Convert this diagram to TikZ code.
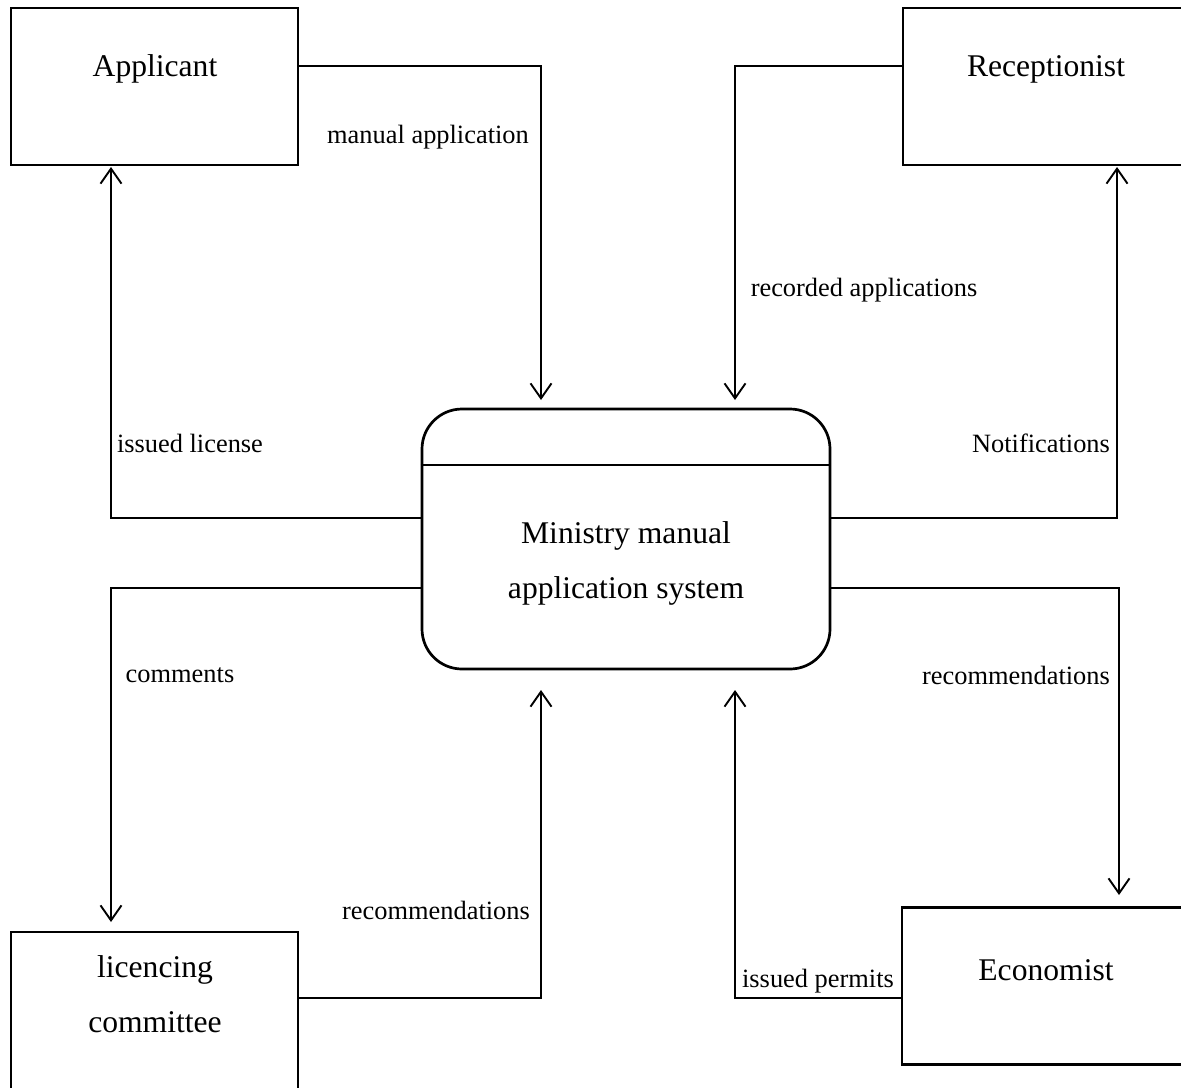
\documentclass[tikz,border=0pt]{standalone}
\usepackage{fontspec}
\setmainfont{Liberation Serif}
\usetikzlibrary{arrows.meta}

\tikzstyle{entity} = [draw,line width=1.35pt,minimum width=143.5pt,minimum height=78.5pt,inner sep=0pt]
\tikzstyle{process} = [draw,line width=1.35pt,rounded corners=20pt,minimum width=204pt,minimum height=130pt,inner sep=0pt]
\tikzstyle{bigtext} = [font=\fontsize{15.8}{27.5}\selectfont,align=center,inner sep=0pt]
\tikzstyle{flowtext} = [font=\fontsize{13.2}{16}\selectfont,inner sep=0pt]
\tikzstyle{flow} = [line width=0.95pt,-{Straight Barb[length=7.5pt,width=10.5pt]}]

\begin{document}
\begin{tikzpicture}[x=0.5pt,y=-0.5pt]
	\clip (0,0) rectangle (1181,1087);

	\node[entity] (applicant) at (154.5,86.5) {};
	\node[entity] (receptionist) at (1046.5,86.5) {};
	\node[entity] (committee) at (154.5,1010.5) {};
	\node[entity] (economist) at (1045.5,986) {};
	\node[process] (ministry) at (626,539) {};
	\draw[line width=1.35pt] (ministry.west |- 0,465) -- (ministry.east |- 0,465);

	\node[bigtext] (applicanttext) at (155,69) {Applicant};
	\node[bigtext] (receptionisttext) at (1046,69) {Receptionist};
	\node[bigtext] (committeetext) at (155,994) {licencing\\committee};
	\node[bigtext] (economisttext) at (1046,970) {Economist};
	\node[bigtext] (ministrytext) at (626,563) {Ministry manual\\application system};

	\coordinate (manualin) at (541,400);
	\coordinate (recordedin) at (735,400);
	\coordinate (licenseout) at (422,518);
	\coordinate (licensein) at (111,167);
	\coordinate (notifyout) at (830,518);
	\coordinate (notifyin) at (1117,167);
	\coordinate (commentsout) at (422,588);
	\coordinate (commentsin) at (111,922);
	\coordinate (recommendout) at (298,998);
	\coordinate (recommendin) at (541,690);
	\coordinate (economyout) at (830,588);
	\coordinate (economyin) at (1119,895);
	\coordinate (permitsout) at (902,998);
	\coordinate (permitsin) at (735,690);

	\draw[flow] (applicant.east |- 0,66) -| (manualin);
	\draw[flow] (receptionist.west |- 0,66) -| (recordedin);
	\draw[flow] (licenseout) -| (licensein);
	\draw[flow] (notifyout) -| (notifyin);
	\draw[flow] (commentsout) -| (commentsin);
	\draw[flow] (recommendout) -| (recommendin);
	\draw[flow] (economyout) -| (economyin);
	\draw[flow] (permitsout) -| (permitsin);

	\node[flowtext] (manuallabel) at (428,137) {manual application};
	\node[flowtext] (recordedlabel) at (864,290) {recorded applications};
	\node[flowtext] (licenselabel) at (190,443) {issued license};
	\node[flowtext] (notifylabel) at (1041,443) {Notifications};
	\node[flowtext] (commentslabel) at (180,675) {comments};
	\node[flowtext] (recommendlabel) at (436,910) {recommendations};
	\node[flowtext] (economylabel) at (1016,675) {recommendations};
	\node[flowtext] (permitslabel) at (818,981) {issued permits};
\end{tikzpicture}
\end{document}
